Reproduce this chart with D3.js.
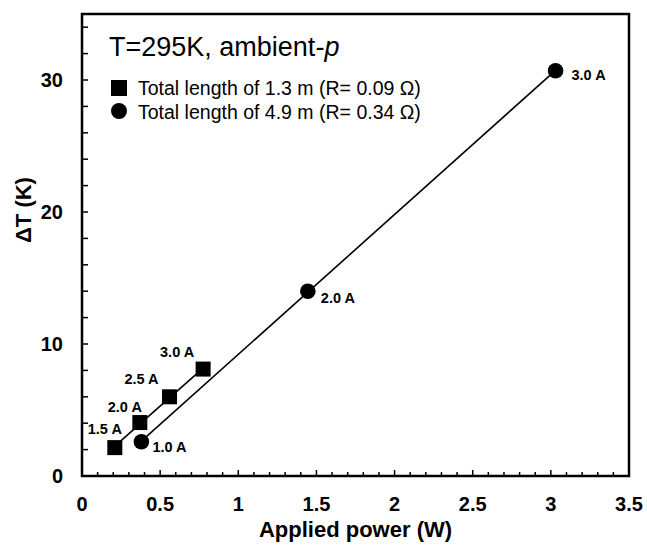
<!DOCTYPE html>
<html>
<head>
<meta charset="utf-8">
<script src="https://cdn.jsdelivr.net/npm/d3@7"></script>
<style>
  body { margin: 0; background: #fff; }
  svg text { font-family: Arial, "Liberation Sans", sans-serif; fill: #000; }
</style>
</head>
<body>
<svg id="chart" width="647" height="545"></svg>
<script>
// data
const squarePower = [0.21, 0.37, 0.56, 0.775];
const squareDT = [2.15, 4.05, 6.0, 8.1];
const squareCurrent = ["1.5 A", "2.0 A", "2.5 A", "3.0 A"];

const circlePower = [0.38, 1.445, 3.03];
const circleDT = [2.6, 14.0, 30.7];
const circleCurrent = ["1.0 A", "2.0 A", "3.0 A"];

const xTickLabels = [0, 0.5, 1, 1.5, 2, 2.5, 3, 3.5];
const yTickLabels = [0, 10, 20, 30];

const legendLabels = [
    "Total length of 1.3 m (R= 0.09 \u03A9)",
    "Total length of 4.9 m (R= 0.34 \u03A9)"
];

// label nudges (px) for the current annotations
const squareLabelOffset = [[-10, -14], [-15, -11], [-28, -13], [-26, -12]];
const circleLabelOffset = [[11, 10], [13, 12], [16, 9]];

const margin = {left: 82, right: 18, top: 14, bottom: 69};
const width = 647, height = 545;

const svg = d3.select("#chart");

const x = d3.scaleLinear().domain([0, 3.5]).range([margin.left, width - margin.right]);
const y = d3.scaleLinear().domain([0, 35]).range([height - margin.bottom, margin.top]);

// frame
svg.append("rect")
    .attr("x", x(0)).attr("y", y(35))
    .attr("width", x(3.5) - x(0)).attr("height", y(0) - y(35))
    .attr("fill", "none").attr("stroke", "#000").attr("stroke-width", 2.5);

// x ticks (inward), minor every 0.1, major every 0.5
const xTicks = d3.range(1, 35).map(d => d / 10);
svg.append("g").selectAll("line")
    .data(xTicks)
    .enter().append("line")
    .attr("x1", d => x(d)).attr("x2", d => x(d))
    .attr("y1", y(0))
    .attr("y2", (d, i) => y(0) - ((i + 1) % 5 === 0 ? 6 : 4))
    .attr("stroke", "#000").attr("stroke-width", 1.5);

// y ticks every 2
const yTicks = d3.range(2, 35, 2);
svg.append("g").selectAll("line")
    .data(yTicks)
    .enter().append("line")
    .attr("x1", x(0)).attr("x2", x(0) + 6)
    .attr("y1", d => y(d)).attr("y2", d => y(d))
    .attr("stroke", "#000").attr("stroke-width", 1.5);

// tick labels
svg.append("g").selectAll("text")
    .data(xTickLabels)
    .enter().append("text")
    .attr("x", d => x(d)).attr("y", y(0) + 35)
    .attr("text-anchor", "middle")
    .style("font-size", "20px").style("font-weight", "bold")
    .text(d => d);

svg.append("g").selectAll("text")
    .data(yTickLabels)
    .enter().append("text")
    .attr("x", x(0) - 19).attr("y", d => y(d) + 7)
    .attr("text-anchor", "end")
    .style("font-size", "20px").style("font-weight", "bold")
    .text(d => d);

// axis titles
svg.append("text")
    .attr("x", (x(0) + x(3.5)) / 2).attr("y", 537)
    .attr("text-anchor", "middle")
    .style("font-size", "22px").style("font-weight", "bold")
    .text("Applied power (W)");

svg.append("text")
    .attr("transform", "translate(31,210) rotate(-90)")
    .attr("text-anchor", "middle")
    .style("font-size", "22px").style("font-weight", "bold")
    .text("\u0394T (K)");

// linear fit lines
function fitLine(xs, ys) {
    const mx = d3.mean(xs), my = d3.mean(ys);
    const sxy = d3.sum(xs, (v, i) => (v - mx) * (ys[i] - my));
    const sxx = d3.sum(xs, v => (v - mx) * (v - mx));
    const m = sxy / sxx, b = my - m * mx;
    const x0 = d3.min(xs), x1 = d3.max(xs);
    return [[x0, m * x0 + b], [x1, m * x1 + b]];
}

const line = d3.line().x(d => x(d[0])).y(d => y(d[1]));

svg.append("path")
    .attr("d", line(fitLine(squarePower, squareDT)))
    .attr("fill", "none").attr("stroke", "#000").attr("stroke-width", 1.6);

svg.append("path")
    .attr("d", line(fitLine(circlePower, circleDT)))
    .attr("fill", "none").attr("stroke", "#000").attr("stroke-width", 1.6);

// markers
const sq = 15;
svg.append("g").selectAll("rect")
    .data(squarePower)
    .enter().append("rect")
    .attr("x", d => x(d) - sq / 2)
    .attr("y", (d, i) => y(squareDT[i]) - sq / 2)
    .attr("width", sq).attr("height", sq)
    .attr("fill", "#000");

svg.append("g").selectAll("circle")
    .data(circlePower)
    .enter().append("circle")
    .attr("cx", d => x(d))
    .attr("cy", (d, i) => y(circleDT[i]))
    .attr("r", 7.8)
    .attr("fill", "#000");

// current labels
svg.append("g").selectAll("text")
    .data(squareCurrent)
    .enter().append("text")
    .attr("x", (d, i) => x(squarePower[i]) + squareLabelOffset[i][0])
    .attr("y", (d, i) => y(squareDT[i]) + squareLabelOffset[i][1])
    .attr("text-anchor", "middle")
    .style("font-size", "14.5px").style("font-weight", "bold")
    .text(d => d);

svg.append("g").selectAll("text")
    .data(circleCurrent)
    .enter().append("text")
    .attr("x", (d, i) => x(circlePower[i]) + circleLabelOffset[i][0])
    .attr("y", (d, i) => y(circleDT[i]) + circleLabelOffset[i][1])
    .attr("text-anchor", "start")
    .style("font-size", "14.5px").style("font-weight", "bold")
    .text(d => d);

// title
const title = svg.append("text")
    .attr("x", 109).attr("y", 56)
    .style("font-size", "27px");
title.append("tspan").text("T=295K, ambient-");
title.append("tspan").style("font-style", "italic").text("p");

// legend
const legend = svg.append("g");
legend.append("rect")
    .attr("x", 111).attr("y", 80).attr("width", 16).attr("height", 16)
    .attr("fill", "#000");
legend.append("circle")
    .attr("cx", 119).attr("cy", 111).attr("r", 8)
    .attr("fill", "#000");
legend.selectAll("text")
    .data(legendLabels)
    .enter().append("text")
    .attr("x", 138).attr("y", (d, i) => 95 + i * 24)
    .style("font-size", "19.5px")
    .text(d => d);
</script>
</body>
</html>
